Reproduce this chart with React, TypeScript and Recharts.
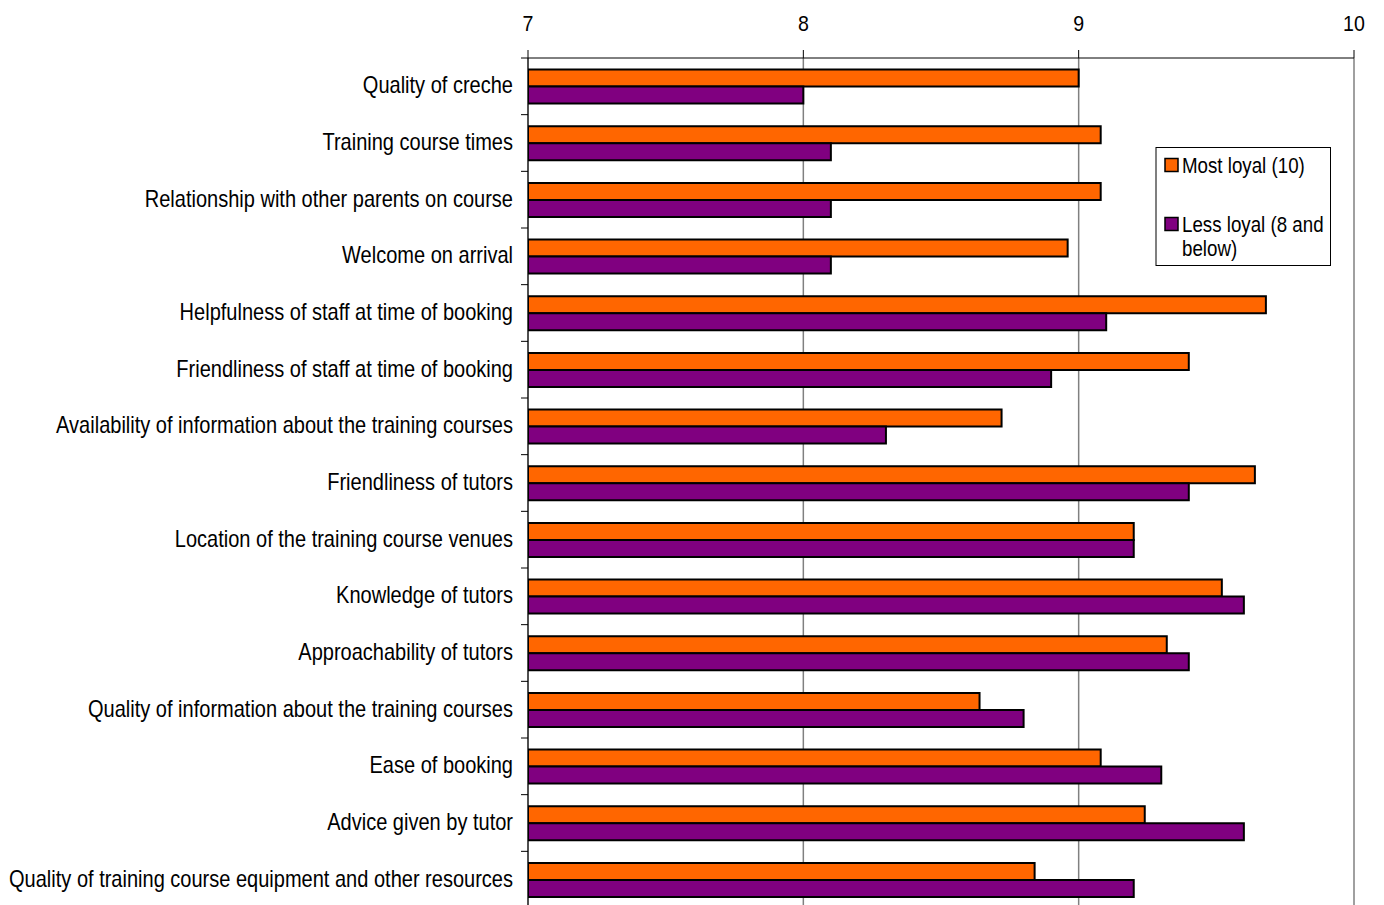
import React from 'react';
import { BarChart, Bar, XAxis, YAxis, CartesianGrid } from 'recharts';

const categories = [
  'Quality of creche',
  'Training course times',
  'Relationship with other parents on course',
  'Welcome on arrival',
  'Helpfulness of staff at time of booking',
  'Friendliness of staff at time of booking',
  'Availability of information about the training courses',
  'Friendliness of tutors',
  'Location of the training course venues',
  'Knowledge of tutors',
  'Approachability of tutors',
  'Quality of information about the training courses',
  'Ease of booking',
  'Advice given by tutor',
  'Quality of training course equipment and other resources',
];
const mostLoyal = [9.0, 9.08, 9.08, 8.96, 9.68, 9.4, 8.72, 9.64, 9.2, 9.52, 9.32, 8.64, 9.08, 9.24, 8.84];
const lessLoyal = [8.0, 8.1, 8.1, 8.1, 9.1, 8.9, 8.3, 9.4, 9.2, 9.6, 9.4, 8.8, 9.3, 9.6, 9.2];
const xTicks = [7, 8, 9, 10];
const seriesNames = ['Most loyal (10)', 'Less loyal (8 and', 'below)'];
const colors = ['#FF6600', '#800080'];

const data = categories.map((c, i) => ({ name: c, most: mostLoyal[i], less: lessLoyal[i] }));

const W = 1384;
const H = 910;
const M_TOP = 8;
const X_AXIS_H = 50;
const M_LEFT = 8;
const Y_AXIS_W = 520;
const M_RIGHT = 30;
const M_BOTTOM = 2;
const PLOT_LEFT = M_LEFT + Y_AXIS_W;
const PLOT_H = H - (M_TOP + X_AXIS_H) - M_BOTTOM;
const BAND = PLOT_H / categories.length;
const FONT = '"Liberation Sans", Arial, sans-serif';
const SX = 0.871;

const YTick = (props: any) => {
  const { y, payload, index } = props;
  const half = BAND / 2;
  return (
    <g>
      <line x1={PLOT_LEFT - 7} x2={PLOT_LEFT} y1={y - half} y2={y - half} stroke="#000" strokeWidth={1} />
      {index === categories.length - 1 && (
        <line x1={PLOT_LEFT - 7} x2={PLOT_LEFT} y1={y + half} y2={y + half} stroke="#000" strokeWidth={1} />
      )}
      <text
        transform={`translate(${PLOT_LEFT - 15},${y + 7}) scale(${SX},1)`}
        textAnchor="end"
        fontSize={23}
        fontFamily={FONT}
        fill="#000"
      >
        {payload.value}
      </text>
    </g>
  );
};

const XTick = (props: any) => {
  const { x, payload } = props;
  return (
    <text
      transform={`translate(${x},${31}) scale(${SX},1)`}
      textAnchor="middle"
      fontSize={22.5}
      fontFamily={FONT}
      fill="#000"
    >
      {payload.value}
    </text>
  );
};

const LegendOverlay = () => (
  <svg
    width={W}
    height={H}
    style={{ position: 'absolute', left: 0, top: 0, pointerEvents: 'none' }}
  >
    <rect x={1156} y={147.5} width={174.5} height={118} fill="#fff" stroke="#000" strokeWidth={1} />
    <rect x={1165} y={158.5} width={13} height={13} fill={colors[0]} stroke="#000" strokeWidth={1.5} />
    <rect x={1165} y={217.5} width={13} height={13} fill={colors[1]} stroke="#000" strokeWidth={1.5} />
    <text transform={`translate(1182,173) scale(${SX},1)`} fontSize={21.5} fontFamily={FONT} fill="#000">
      {seriesNames[0]}
    </text>
    <text transform={`translate(1182,232) scale(${SX},1)`} fontSize={21.5} fontFamily={FONT} fill="#000">
      {seriesNames[1]}
    </text>
    <text transform={`translate(1182,256) scale(${SX},1)`} fontSize={21.5} fontFamily={FONT} fill="#000">
      {seriesNames[2]}
    </text>
  </svg>
);

export default function App() {
  return (
    <div style={{ position: 'absolute', left: 0, top: 0, width: W, height: H, background: '#fff' }}>
      <BarChart
        width={W}
        height={H}
        data={data}
        layout="vertical"
        margin={{ top: M_TOP, left: M_LEFT, right: M_RIGHT, bottom: M_BOTTOM }}
        barCategoryGap="20.5%"
        barGap={0}
      >
        <CartesianGrid horizontal={false} vertical stroke="#808080" strokeWidth={1.5} />
        <XAxis
          type="number"
          orientation="top"
          domain={[7, 10]}
          ticks={xTicks}
          height={X_AXIS_H}
          allowDataOverflow
          tickSize={8}
          tick={<XTick />}
          axisLine={{ stroke: '#000', strokeWidth: 1 }}
          tickLine={{ stroke: '#000' }}
        />
        <YAxis
          type="category"
          dataKey="name"
          width={Y_AXIS_W}
          interval={0}
          tickLine={false}
          axisLine={{ stroke: '#000', strokeWidth: 1 }}
          tick={<YTick />}
        />
        <Bar dataKey="most" name="Most loyal (10)" fill={colors[0]} stroke="#000" strokeWidth={2} isAnimationActive={false} />
        <Bar dataKey="less" name="Less loyal (8 and below)" fill={colors[1]} stroke="#000" strokeWidth={2} isAnimationActive={false} />
      </BarChart>
      <LegendOverlay />
    </div>
  );
}
